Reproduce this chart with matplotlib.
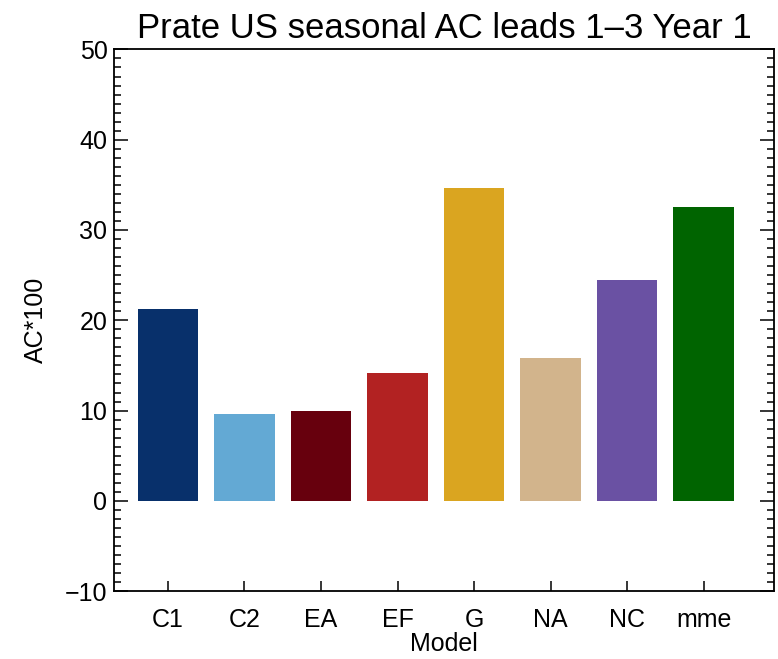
import matplotlib
matplotlib.use("Agg")
import matplotlib.pyplot as plt
from matplotlib.ticker import MultipleLocator

modelos = ["C1", "C2", "EA", "EF", "G", "NA", "NC", "mme"]
ac100 = [21.3, 9.6, 10.0, 14.2, 34.7, 15.8, 24.5, 32.5]
cores = ["#08306b", "#63a9d4", "#67000d", "#b22222", "#daa520", "#d2b48c", "#6a51a3", "#006400"]

plt.rcParams["font.family"] = ["Liberation Sans", "DejaVu Sans"]

fig = plt.figure(figsize=(7.78, 6.59), dpi=100)
ax = fig.add_axes([0.147, 0.103, 0.848, 0.822])

x = list(range(len(modelos)))
ax.bar(x, ac100, width=0.79, color=cores)

ax.set_xlim(-0.70, 7.92)
ax.set_ylim(-10, 50)
ax.set_xticks(x)
ax.set_xticklabels(modelos)
ax.yaxis.set_major_locator(MultipleLocator(10))
ax.yaxis.set_minor_locator(MultipleLocator(1))
ax.tick_params(axis="y", which="major", direction="in", length=10, width=1.1,
               left=True, right=True, labelsize=18, pad=5)
ax.tick_params(axis="y", which="minor", direction="in", length=5, width=1.1,
               left=True, right=True)
ax.tick_params(axis="x", which="major", direction="in", length=7, width=1.1,
               bottom=True, top=False, labelsize=18, pad=12)
for s in ax.spines.values():
    s.set_linewidth(1.3)

ax.set_xlabel("Model", fontsize=18, labelpad=0)
ax.set_ylabel("AC*100", fontsize=18, labelpad=12)
ax.set_title("Prate US seasonal AC leads 1\u20133 Year 1", fontsize=25, pad=8)

fig.savefig("out.png", dpi=100)
